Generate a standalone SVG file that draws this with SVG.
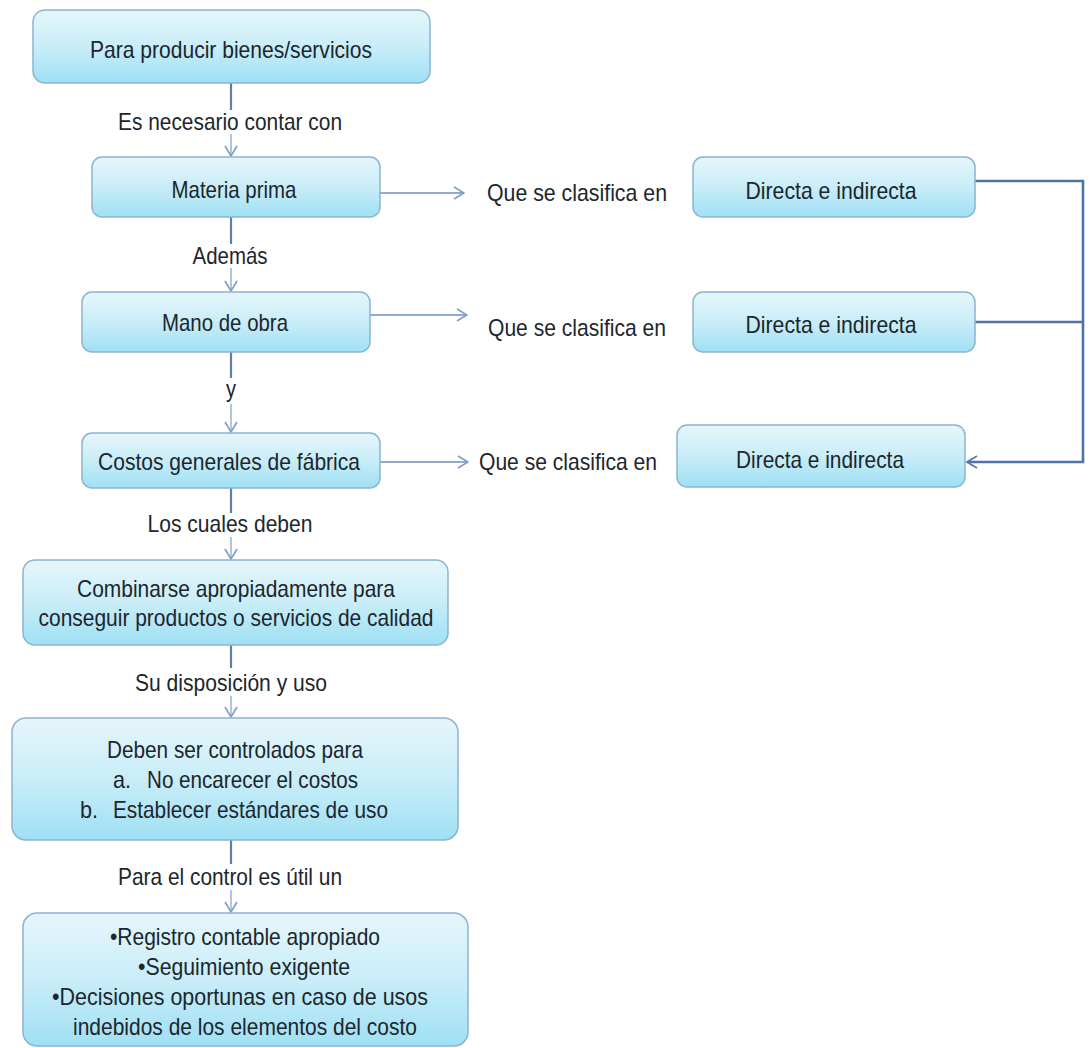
<svg xmlns="http://www.w3.org/2000/svg" width="1092" height="1048" viewBox="0 0 1092 1048">
<defs>
<linearGradient id="boxfill" x1="0" y1="0" x2="0" y2="1">
<stop offset="0" stop-color="#e6f6fb"/>
<stop offset="0.5" stop-color="#c9edf8"/>
<stop offset="1" stop-color="#9fe0f4"/>
</linearGradient>
<marker id="chev" viewBox="0 0 12 14" refX="11" refY="7" markerWidth="12" markerHeight="14" markerUnits="userSpaceOnUse" orient="auto">
<path d="M1,1 L11,7 L1,13" fill="none" stroke="#7d9cc8" stroke-width="1.6"/>
</marker>
<marker id="chevd" viewBox="0 0 12 14" refX="11" refY="7" markerWidth="12" markerHeight="14" markerUnits="userSpaceOnUse" orient="auto">
<path d="M1,1 L11,7 L1,13" fill="none" stroke="#5b7db3" stroke-width="1.8"/>
</marker>
</defs>
<style>
.box{fill:url(#boxfill);stroke:#8db3cf;stroke-width:1.5}
.t{font-family:"Liberation Sans",Arial,sans-serif;font-size:24px;fill:#1c262c;text-anchor:middle}
.tl{font-family:"Liberation Sans",Arial,sans-serif;font-size:24px;fill:#1c262c}
.stem{stroke:#5f7fa8;stroke-width:2.2;fill:none}
.arr{stroke:#8aa6cc;stroke-width:1.3;fill:none;marker-end:url(#chev)}
.harr{stroke:#6f8fc0;stroke-width:1.6;fill:none;marker-end:url(#chev)}
.brk{stroke:#4f72ab;stroke-width:2.6;fill:none}
</style>
<rect width="1092" height="1048" fill="#ffffff"/>

<g id="connectors">
<line class="stem" x1="231" y1="83" x2="231" y2="110"/>
<line class="arr" x1="231" y1="134" x2="231" y2="156"/>
<line class="stem" x1="231" y1="217" x2="231" y2="244"/>
<line class="arr" x1="231" y1="268" x2="231" y2="291"/>
<line class="stem" x1="231" y1="352" x2="231" y2="378"/>
<line class="arr" x1="231" y1="404" x2="231" y2="432"/>
<line class="stem" x1="231" y1="488" x2="231" y2="513"/>
<line class="arr" x1="231" y1="537" x2="231" y2="559"/>
<line class="stem" x1="231" y1="645" x2="231" y2="668"/>
<line class="arr" x1="231" y1="696" x2="231" y2="717"/>
<line class="stem" x1="231" y1="840" x2="231" y2="864"/>
<line class="arr" x1="231" y1="890" x2="231" y2="912"/>
<line class="harr" x1="380" y1="193" x2="464" y2="193"/>
<line class="harr" x1="370" y1="315" x2="467" y2="315"/>
<line class="harr" x1="380" y1="462" x2="468" y2="462"/>
<path class="brk" d="M975,181 H1083 V462 H967" marker-end="url(#chevd)"/>
<line class="brk" x1="975" y1="322" x2="1083" y2="322"/>
<text class="t" x="230" y="130" textLength="224" lengthAdjust="spacingAndGlyphs">Es necesario contar con</text>
<text class="t" x="230" y="264" textLength="75" lengthAdjust="spacingAndGlyphs">Además</text>
<text class="t" x="231" y="397" textLength="10" lengthAdjust="spacingAndGlyphs">y</text>
<text class="t" x="230" y="532" textLength="165" lengthAdjust="spacingAndGlyphs">Los cuales deben</text>
<text class="t" x="231" y="691" textLength="192" lengthAdjust="spacingAndGlyphs">Su disposición y uso</text>
<text class="t" x="230" y="885" textLength="224" lengthAdjust="spacingAndGlyphs">Para el control es útil un</text>
<text class="t" x="577" y="201" textLength="180" lengthAdjust="spacingAndGlyphs">Que se clasifica en</text>
<text class="t" x="577" y="336" textLength="178" lengthAdjust="spacingAndGlyphs">Que se clasifica en</text>
<text class="t" x="568" y="470" textLength="178" lengthAdjust="spacingAndGlyphs">Que se clasifica en</text>
</g>

<g id="n1">
<rect class="box" x="33" y="10" width="397" height="73" rx="12"/>
<text class="t" x="231" y="58" textLength="282" lengthAdjust="spacingAndGlyphs">Para producir bienes/servicios</text>
</g>
<g id="n2">
<rect class="box" x="92" y="157" width="288" height="60" rx="10"/>
<text class="t" x="234" y="198" textLength="125" lengthAdjust="spacingAndGlyphs">Materia prima</text>
</g>
<g id="n3">
<rect class="box" x="82" y="292" width="288" height="60" rx="10"/>
<text class="t" x="225" y="331" textLength="126" lengthAdjust="spacingAndGlyphs">Mano de obra</text>
</g>
<g id="n4">
<rect class="box" x="82" y="433" width="298" height="55" rx="10"/>
<text class="t" x="229" y="470" textLength="262" lengthAdjust="spacingAndGlyphs">Costos generales de fábrica</text>
</g>
<g id="n5">
<rect class="box" x="23" y="560" width="425" height="85" rx="12"/>
<text class="t" x="236" y="597" textLength="318" lengthAdjust="spacingAndGlyphs">Combinarse apropiadamente para</text>
<text class="t" x="236" y="626" textLength="395" lengthAdjust="spacingAndGlyphs">conseguir productos o servicios de calidad</text>
</g>
<g id="n6">
<rect class="box" x="12" y="718" width="446" height="122" rx="14"/>
<text class="t" x="235" y="758" textLength="256" lengthAdjust="spacingAndGlyphs">Deben ser controlados para</text>
<text class="tl" x="113" y="788" textLength="18" lengthAdjust="spacingAndGlyphs">a.</text>
<text class="tl" x="147" y="788" textLength="211" lengthAdjust="spacingAndGlyphs">No encarecer el costos</text>
<text class="tl" x="80" y="818" textLength="18" lengthAdjust="spacingAndGlyphs">b.</text>
<text class="tl" x="113" y="818" textLength="275" lengthAdjust="spacingAndGlyphs">Establecer estándares de uso</text>
</g>
<g id="n7">
<rect class="box" x="23" y="913" width="445" height="133" rx="14"/>
<text class="t" x="245" y="945" textLength="270" lengthAdjust="spacingAndGlyphs">•Registro contable apropiado</text>
<text class="t" x="244" y="975" textLength="212" lengthAdjust="spacingAndGlyphs">•Seguimiento exigente</text>
<text class="t" x="240" y="1005" textLength="376" lengthAdjust="spacingAndGlyphs">•Decisiones oportunas en caso de usos</text>
<text class="t" x="245" y="1035" textLength="344" lengthAdjust="spacingAndGlyphs">indebidos de los elementos del costo</text>
</g>
<g id="d1">
<rect class="box" x="693" y="157" width="282" height="60" rx="10"/>
<text class="t" x="831" y="199" textLength="171" lengthAdjust="spacingAndGlyphs">Directa e indirecta</text>
</g>
<g id="d2">
<rect class="box" x="693" y="292" width="282" height="60" rx="10"/>
<text class="t" x="831" y="333" textLength="171" lengthAdjust="spacingAndGlyphs">Directa e indirecta</text>
</g>
<g id="d3">
<rect class="box" x="677" y="425" width="288" height="62" rx="10"/>
<text class="t" x="820" y="468" textLength="168" lengthAdjust="spacingAndGlyphs">Directa e indirecta</text>
</g>
</svg>
